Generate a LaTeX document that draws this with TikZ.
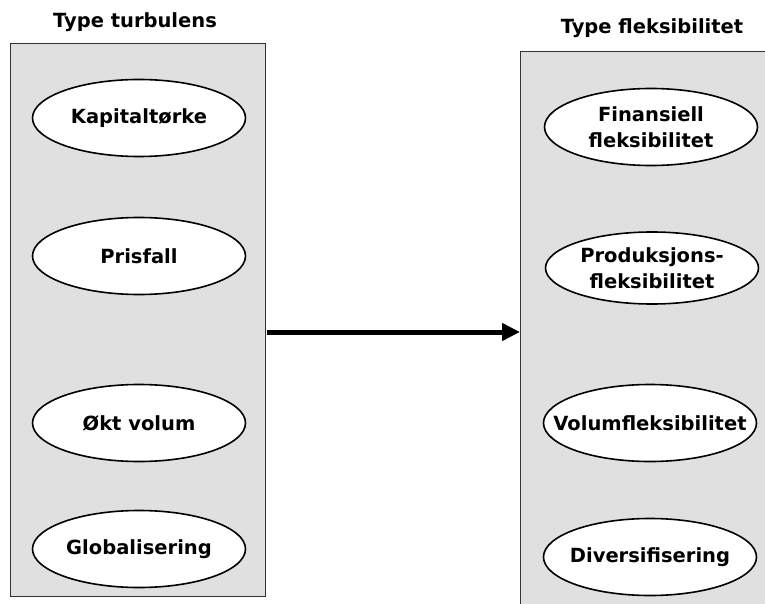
\documentclass[tikz,border=0pt]{standalone}
\usepackage{fontspec}
\setmainfont{DejaVu Sans}
\usetikzlibrary{shapes.geometric,arrows.meta}
\definecolor{panelgray}{RGB}{224,224,224}
\begin{document}
\begin{tikzpicture}[x=1pt,y=-1pt,
  panel/.style={draw=black!80,line width=1pt,fill=panelgray},
  oval/.style={ellipse,draw=black,line width=1.6pt,fill=white,minimum width=213pt,minimum height=77pt,inner xsep=-30pt,inner ysep=0pt,align=center,font=\bfseries\fontsize{19.5}{26}\selectfont},
  title/.style={font=\bfseries\fontsize{19.5}{24}\selectfont}]
\useasboundingbox (0,0) rectangle (765,604);
\path[panel] (10,44) rectangle (265,596);
\path[panel] (520,52) rectangle (780,620);
\node[title] (t1) at (135,22) {Type turbulens};
\node[title] (t2) at (652,28) {Type fleksibilitet};
\node[oval] (a1) at (139,118) {Kapitaltørke};
\node[oval] (a2) at (139,256) {Prisfall};
\node[oval] (a3) at (139,423) {Økt volum};
\node[oval] (a4) at (139,549) {Globalisering};
\node[oval] (b1) at (651,127) {Finansiell\\fleksibilitet};
\node[oval,minimum height=72pt] (b2) at (652,268) {Produksjons-\\fleksibilitet};
\node[oval] (b3) at (650,423) {Volumfleksibilitet};
\node[oval] (b4) at (650,557) {Diversifisering};
\coordinate (s) at (267,332);
\coordinate (e) at (520,332);
\draw[line width=5pt,-{Triangle[length=18pt,width=17pt]}] (s) -- (e);
\end{tikzpicture}
\end{document}
